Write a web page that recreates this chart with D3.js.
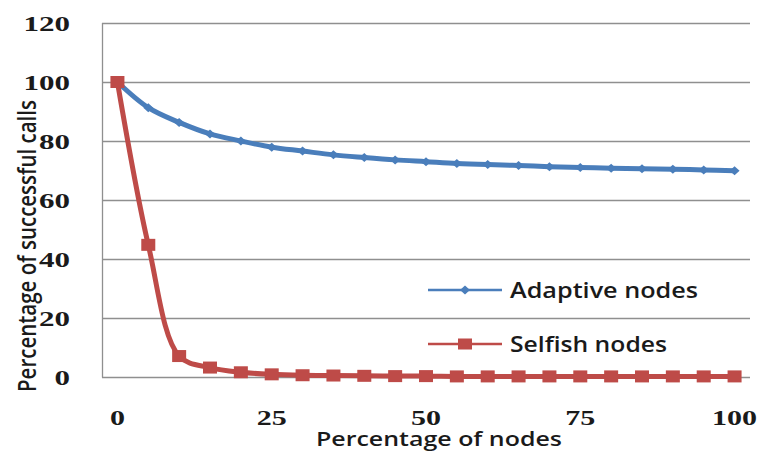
<!DOCTYPE html>
<html>
<head>
<meta charset="utf-8">
<script src="https://cdn.jsdelivr.net/npm/d3@7"></script>
<style>
  body { margin: 0; background: #fff; }
  svg { display: block; }
</style>
</head>
<body>
<div id="chart"></div>
<script>
// chart data
var categories = [0, 5, 10, 15, 20, 25, 30, 35, 40, 45, 50, 55, 60, 65, 70, 75, 80, 85, 90, 95, 100];
var adaptiveValues = [100, 91.3, 86.3, 82.4, 80.0, 77.9, 76.6, 75.3, 74.4, 73.6, 73.0, 72.4, 72.0, 71.7, 71.3, 71.0, 70.8, 70.6, 70.4, 70.2, 69.9];
var selfishValues = [100, 44.8, 7.1, 3.2, 1.6, 0.9, 0.6, 0.5, 0.4, 0.3, 0.3, 0.2, 0.2, 0.2, 0.2, 0.2, 0.2, 0.2, 0.2, 0.2, 0.2];
var yTicks = [0, 20, 40, 60, 80, 100, 120];
var xTickLabels = [0, 25, 50, 75, 100];
var seriesNames = ["Adaptive nodes", "Selfish nodes"];

function drawChart() {
  var W = 759, H = 452;
  // plot area
  var margin = { top: 23, right: 9, bottom: 75, left: 102 },
    width = W - margin.left - margin.right,
    height = H - margin.top - margin.bottom;

  var blue = "#4a7ebb", red = "#be4b48";
  var tickFont = "'Liberation Serif', 'DejaVu Serif', serif";
  var titleFont = "'Open Sans', Lato, sans-serif";

  var svg = d3.select("#chart")
    .append("svg")
    .attr("width", W)
    .attr("height", H);

  var g = svg.append("g")
    .attr("transform", "translate(" + margin.left + "," + margin.top + ")");

  // ---------------------------//
  //       AXIS  AND SCALE      //
  // ---------------------------//
  var x = d3.scalePoint()
    .domain(categories)
    .range([0, width])
    .padding(0.5);

  var y = d3.scaleLinear()
    .domain([0, 120])
    .range([height, 0]);

  // horizontal gridlines
  g.append("g")
    .selectAll("line")
    .data(yTicks)
    .enter()
    .append("line")
    .attr("x1", 0)
    .attr("x2", width)
    .attr("y1", function (d) { return Math.round(y(d)) + 0.5; })
    .attr("y2", function (d) { return Math.round(y(d)) + 0.5; })
    .style("stroke", "#8f8f8f")
    .style("stroke-width", 1.3);

  // left axis line
  g.append("line")
    .attr("x1", 0.5).attr("x2", 0.5)
    .attr("y1", y(120)).attr("y2", y(0) + 0.5)
    .style("stroke", "#8f8f8f")
    .style("stroke-width", 1.3);

  // Y tick labels (the picture is stretched sideways, so textLength widens them)
  g.append("g")
    .selectAll("text")
    .data(yTicks)
    .enter()
    .append("text")
    .attr("x", -32)
    .attr("y", function (d) { return y(d) + 7.5; })
    .attr("text-anchor", "end")
    .attr("textLength", function (d) { return String(d).length * 15.5; })
    .attr("lengthAdjust", "spacingAndGlyphs")
    .style("font-family", tickFont)
    .style("font-weight", "bold")
    .style("font-size", "22px")
    .style("fill", "#1a1a1a")
    .text(function (d) { return d; });

  // X tick labels
  g.append("g")
    .selectAll("text")
    .data(xTickLabels)
    .enter()
    .append("text")
    .attr("x", function (d) { return x(d); })
    .attr("y", height + 48)
    .attr("text-anchor", "middle")
    .attr("textLength", function (d) { return String(d).length * 15; })
    .attr("lengthAdjust", "spacingAndGlyphs")
    .style("font-family", tickFont)
    .style("font-weight", "bold")
    .style("font-size", "21px")
    .style("fill", "#1a1a1a")
    .text(function (d) { return d; });

  // X axis title
  svg.append("text")
    .attr("x", 439)
    .attr("y", 446)
    .attr("text-anchor", "middle")
    .attr("textLength", 246)
    .attr("lengthAdjust", "spacingAndGlyphs")
    .style("font-family", titleFont)
    .style("font-weight", 600)
    .style("font-size", "20px")
    .style("fill", "#1a1a1a")
    .text("Percentage of nodes");

  // Y axis title
  svg.append("text")
    .attr("transform", "translate(36,246) scale(1.3,1) rotate(-90)")
    .attr("x", 0)
    .attr("y", 0)
    .attr("text-anchor", "middle")
    .attr("textLength", 292)
    .attr("lengthAdjust", "spacingAndGlyphs")
    .style("font-family", titleFont)
    .style("font-weight", 600)
    .style("font-size", "19px")
    .style("fill", "#1a1a1a")
    .text("Percentage of successful calls");

  // ---------------------------//
  //       LINES AND MARKERS    //
  // ---------------------------//
  var line = d3.line()
    .x(function (d, i) { return x(categories[i]); })
    .y(function (d) { return y(d); })
    .curve(d3.curveCatmullRom);

  var diamond = function (cx, cy, w, h) {
    return "M" + cx + "," + (cy - h) + "L" + (cx + w) + "," + cy +
      "L" + cx + "," + (cy + h) + "L" + (cx - w) + "," + cy + "Z";
  };

  // adaptive series
  g.append("path")
    .datum(adaptiveValues)
    .attr("d", line)
    .style("fill", "none")
    .style("stroke", blue)
    .style("stroke-width", 5)
    .style("stroke-linejoin", "round");

  g.append("g")
    .selectAll("path")
    .data(adaptiveValues)
    .enter()
    .append("path")
    .attr("d", function (d, i) { return diamond(x(categories[i]), y(d), 5, 4.5); })
    .style("fill", blue);

  // selfish series
  g.append("path")
    .datum(selfishValues)
    .attr("d", line)
    .style("fill", "none")
    .style("stroke", red)
    .style("stroke-width", 5)
    .style("stroke-linejoin", "round");

  g.append("g")
    .selectAll("rect")
    .data(selfishValues)
    .enter()
    .append("rect")
    .attr("x", function (d, i) { return x(categories[i]) - 7; })
    .attr("y", function (d) { return y(d) - 6; })
    .attr("width", 14)
    .attr("height", 12)
    .style("fill", red);

  // ---------------------------//
  //       LEGEND               //
  // ---------------------------//
  var legendY = [290, 344];
  var legendColors = [blue, red];
  var legend = svg.append("g");

  legend.selectAll("line")
    .data(seriesNames)
    .enter()
    .append("line")
    .attr("x1", 428)
    .attr("x2", 502)
    .attr("y1", function (d, i) { return legendY[i]; })
    .attr("y2", function (d, i) { return legendY[i]; })
    .style("stroke", function (d, i) { return legendColors[i]; })
    .style("stroke-width", 2.5);

  legend.append("path")
    .attr("d", diamond(465, legendY[0], 5, 4.5))
    .style("fill", blue);

  legend.append("rect")
    .attr("x", 458)
    .attr("y", legendY[1] - 5.5)
    .attr("width", 14)
    .attr("height", 11)
    .style("fill", red);

  var legendWidths = [188, 157];
  legend.selectAll("text")
    .data(seriesNames)
    .enter()
    .append("text")
    .attr("x", 510)
    .attr("y", function (d, i) { return legendY[i] + 7.5; })
    .attr("textLength", function (d, i) { return legendWidths[i]; })
    .attr("lengthAdjust", "spacingAndGlyphs")
    .style("font-family", titleFont)
    .style("font-weight", 600)
    .style("font-size", "22px")
    .style("fill", "#1a1a1a")
    .text(function (d) { return d; });
}

drawChart();
</script>
</body>
</html>
